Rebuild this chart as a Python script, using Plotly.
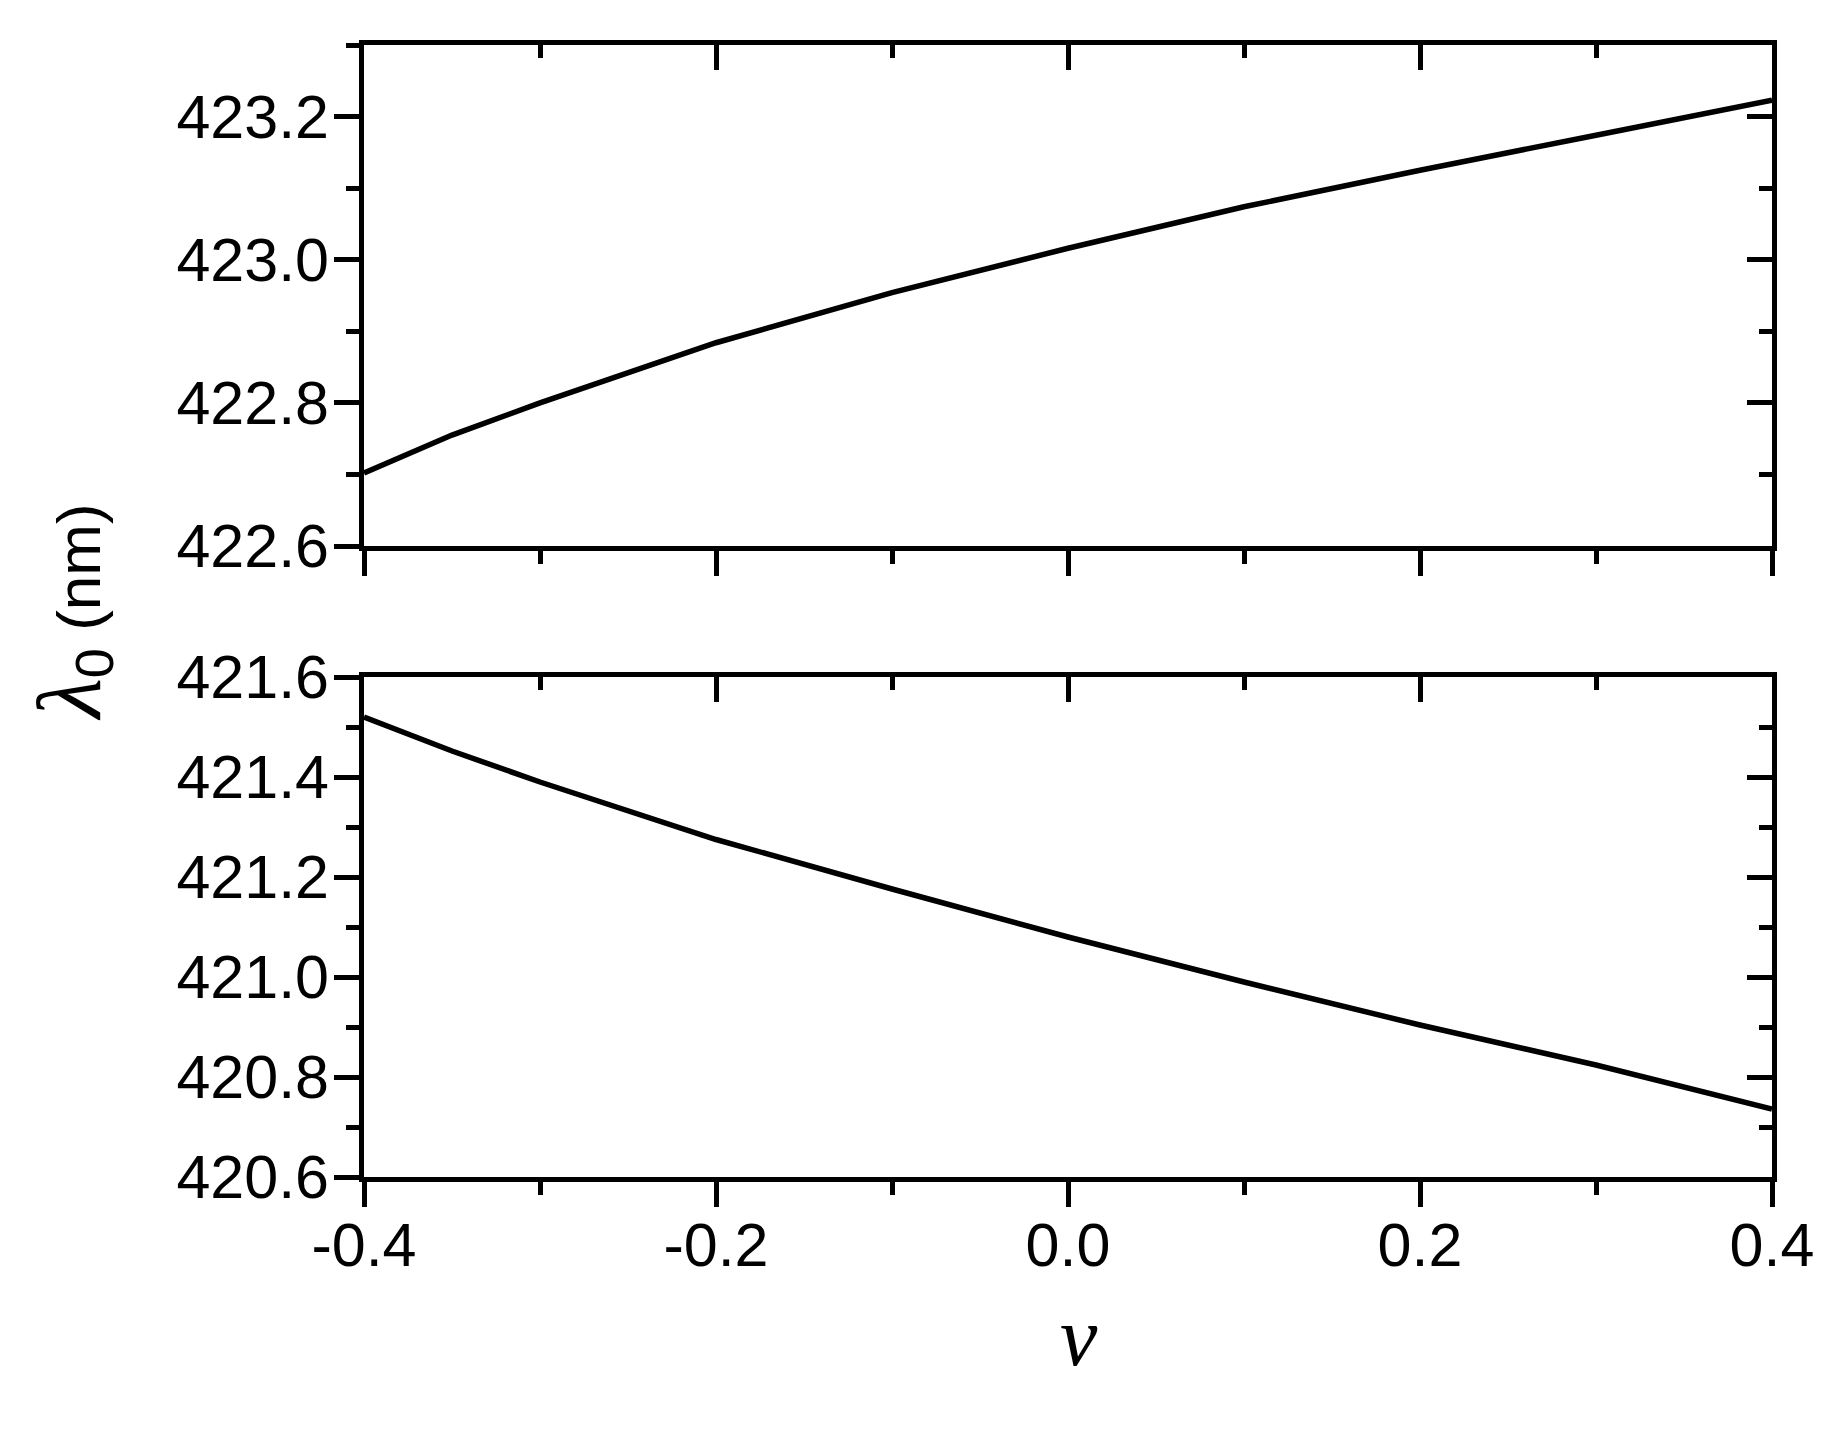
import plotly.graph_objects as go

# poisson ratio v and resonance wavelength lambda_0 (nm)
v = [-0.4, -0.35, -0.3, -0.2, -0.1, 0.0, 0.1, 0.2, 0.3, 0.4]
lam_upper = [422.702, 422.755, 422.800, 422.884, 422.954, 423.016, 423.074, 423.125, 423.174, 423.223]
lam_lower = [421.520, 421.452, 421.390, 421.275, 421.176, 421.080, 420.990, 420.904, 420.824, 420.736]

x_ticks = [-0.4, -0.2, 0.0, 0.2, 0.4]
x_ticktext = ["-0.4", "-0.2", "0.0", "0.2", "0.4"]
upper_ticks = [422.6, 422.8, 423.0, 423.2]
lower_ticks = [420.6, 420.8, 421.0, 421.2, 421.4, 421.6]

W, H = 1846, 1430
OFF = 8  # page offset of the plot div
xdom = [(364 - OFF) / W, (1772 - OFF) / W]
top_dom = [1 - (546 - OFF) / H, 1 - (45 - OFF) / H]
bot_dom = [1 - (1177 - OFF) / H, 1 - (677 - OFF) / H]

tickfont = dict(family="Liberation Sans, Arial", size=61, color="black")
LW = 4.5

fig = go.Figure()
fig.add_trace(go.Scatter(x=v, y=lam_lower, mode="lines", xaxis="x", yaxis="y",
                         line=dict(color="black", width=5.5)))
fig.add_trace(go.Scatter(x=v, y=lam_upper, mode="lines", xaxis="x2", yaxis="y2",
                         line=dict(color="black", width=5.5)))
# empty traces so the mirrored (top / right) frame axes get drawn
for xa, ya in [("x3", "y3"), ("x4", "y4")]:
    fig.add_trace(go.Scatter(x=[None], y=[None], xaxis=xa, yaxis=ya, hoverinfo="skip"))


def xax(anchor, labels, side="bottom", ticks="outside", overlay=None):
    d = dict(domain=xdom, range=[-0.4, 0.4], anchor=anchor, side=side, automargin=False,
             showline=True, linecolor="black", linewidth=LW, showgrid=False, zeroline=False,
             tickmode="array", tickvals=x_ticks, ticktext=x_ticktext,
             ticks=ticks, ticklen=25, tickwidth=LW, tickcolor="black",
             minor=dict(dtick=0.1, tick0=-0.4, ticks=ticks, ticklen=13, tickwidth=LW, tickcolor="black"),
             showticklabels=labels, tickfont=tickfont, ticklabelstandoff=-14)
    if overlay:
        d["overlaying"] = overlay
    return d


def yax(anchor, dom, rng, tv, side="left", ticks="outside", overlay=None, labels=True):
    d = dict(domain=dom, range=rng, anchor=anchor, side=side, automargin=False,
             showline=True, linecolor="black", linewidth=LW, showgrid=False, zeroline=False,
             tickmode="array", tickvals=tv, ticktext=["%.1f" % t for t in tv],
             ticks=ticks, ticklen=25, tickwidth=LW, tickcolor="black",
             minor=dict(dtick=0.1, tick0=rng[0], ticks=ticks, ticklen=13, tickwidth=LW, tickcolor="black"),
             showticklabels=labels, tickfont=tickfont, ticklabelstandoff=-7)
    if overlay:
        d["overlaying"] = overlay
    return d


fig.update_layout(
    width=W, height=H,
    margin=dict(l=0, r=0, t=0, b=0, autoexpand=False),
    paper_bgcolor="white", plot_bgcolor="white",
    showlegend=False,
    xaxis=xax("y", True),
    yaxis=yax("x", bot_dom, [420.6, 421.6], lower_ticks),
    xaxis2=xax("y2", False),
    yaxis2=yax("x2", top_dom, [422.6, 423.3], upper_ticks),
    xaxis3=xax("y3", False, side="top", ticks="inside", overlay="x"),
    yaxis3=yax("x3", bot_dom, [420.6, 421.6], lower_ticks, side="right", ticks="inside",
               overlay="y", labels=False),
    xaxis4=xax("y4", False, side="top", ticks="inside", overlay="x2"),
    yaxis4=yax("x4", top_dom, [422.6, 423.3], upper_ticks, side="right", ticks="inside",
               overlay="y2", labels=False),
)

fig.add_annotation(
    x=8 / W, y=1 - 604 / H, xref="paper", yref="paper", showarrow=False, textangle=-90,
    text="<span style='font-family:Liberation Serif, Times New Roman;font-size:92px'><i>λ</i></span>"
         "<sub><span style='font-size:54px'>0</span></sub> (nm)",
    font=dict(family="Liberation Sans, Arial", size=62, color="black"),
)
fig.add_annotation(
    x=1071 / W, y=1 - 1377 / H, xref="paper", yref="paper", showarrow=False,
    text="<i>v</i>",
    font=dict(family="Liberation Serif, Times New Roman", size=84, color="black"),
)

fig.write_html("out.html")
